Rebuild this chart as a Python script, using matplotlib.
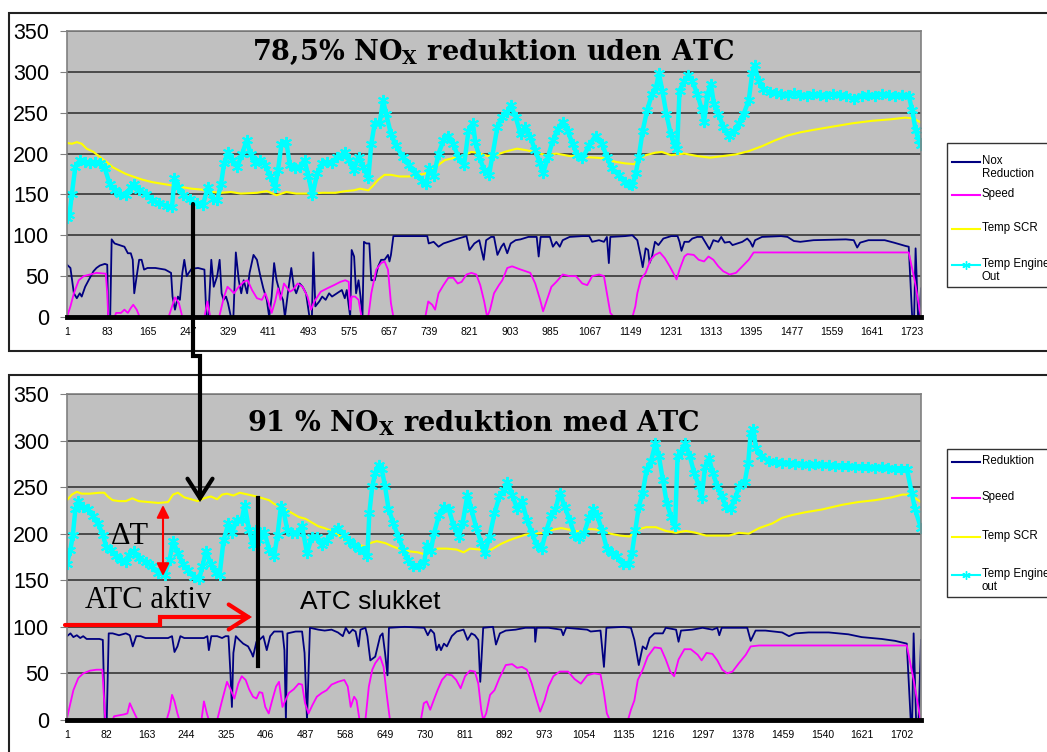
import matplotlib.pyplot as plt
from matplotlib.lines import Line2D
from matplotlib.patches import Rectangle, FancyArrowPatch
from matplotlib.path import Path

plt.rcParams['font.family'] = ['Liberation Sans', 'DejaVu Sans']
plt.rcParams['mathtext.fontset'] = 'custom'
plt.rcParams['mathtext.rm'] = 'DejaVu Serif:bold'

# ---------------- data: run without ATC (top) ----------------
top_nox_x = [1, 8, 15, 21, 27, 31, 38, 45, 55, 61, 68, 78, 83, 85, 89, 92, 98, 108, 118, 125, 131, 135, 138, 143,
             148, 153, 158, 165, 181, 201, 213, 216, 221, 227, 231, 236, 240, 245, 249, 255, 268, 281, 285, 289, 295,
             300, 307, 312, 316, 320, 325, 329, 335, 340, 345, 351, 356, 361, 368, 373, 381, 388, 395, 401, 408, 413,
             418, 423, 428, 435, 441, 445, 451, 458, 463, 468, 475, 481, 488, 495, 500, 503, 507, 515, 521, 528, 535,
             541, 551, 561, 567, 571, 578, 581, 586, 590, 595, 599, 603, 606, 611, 617, 621, 628, 635, 641, 648, 655,
             658, 661, 666, 675, 735, 738, 748, 758, 768, 778, 798, 815, 821, 831, 841, 850, 855, 865, 871, 878, 886,
             891, 898, 905, 915, 925, 941, 958, 962, 966, 985, 991, 998, 1005, 1011, 1025, 1051, 1065, 1071, 1085,
             1095, 1101, 1105, 1108, 1138, 1153, 1163, 1170, 1174, 1180, 1185, 1188, 1193, 1199, 1206, 1216, 1232,
             1245, 1249, 1253, 1259, 1268, 1275, 1285, 1295, 1301, 1310, 1318, 1328, 1334, 1341, 1351, 1357, 1367,
             1377, 1387, 1393, 1398, 1403, 1417, 1456, 1469, 1482, 1495, 1522, 1588, 1604, 1611, 1617, 1634, 1667,
             1686, 1709, 1716, 1723, 1727, 1730, 1735, 1738, 1741]
top_nox_y = [64, 60, 29, 23, 29, 25, 37, 45, 56, 60, 63, 65, 64, 0, 0, 95, 90, 88, 86, 78, 78, 70, 29, 50,
             70, 70, 58, 60, 60, 58, 54, 25, 9, 25, 21, 54, 70, 50, 54, 59, 60, 58, 0, 0, 70,
             37, 50, 70, 29, 21, 25, 17, 0, 0, 79, 45, 29, 45, 29, 54, 76, 70, 50, 35, 21, 0,
             25, 66, 45, 29, 21, 0, 29, 60, 37, 29, 41, 37, 29, 0, 0, 79, 13, 19, 25, 21, 29,
             25, 29, 33, 23, 33, 0, 82, 74, 29, 45, 25, 0, 92, 90, 90, 45, 45, 62, 70, 70, 76,
             68, 76, 99, 99, 99, 90, 92, 86, 90, 92, 96, 99, 82, 90, 94, 70, 94, 98, 98, 76, 86,
             90, 78, 90, 94, 95, 98, 98, 74, 98, 98, 86, 92, 86, 94, 98, 99, 99, 92, 94,
             92, 98, 66, 98, 99, 100, 94, 74, 61, 84, 82, 66, 74, 92, 88, 96, 99,
             99, 92, 81, 92, 92, 96, 98, 98, 92, 83, 94, 92, 98, 91, 92, 88, 90,
             92, 96, 92, 86, 94, 98, 99, 98, 93, 92, 94, 95, 94, 85, 91, 94, 94,
             91, 87, 86, 0, 0, 84, 0, 0, 35]

top_speed_x = [1, 8, 15, 25, 35, 48, 61, 80, 83, 85, 98, 101, 111, 118, 125, 131, 136, 143, 149, 208, 215, 221,
               229, 236, 281, 287, 293, 311, 321, 328, 335, 341, 351, 361, 369, 378, 388, 398, 405, 411, 418, 425,
               431, 436, 443, 448, 455, 461, 471, 481, 491, 498, 505, 518, 531, 545, 558, 568, 575, 578, 581, 588,
               595, 601, 615, 621, 631, 641, 648, 655, 661, 666, 731, 737, 745, 751, 758, 768, 778, 788, 797, 805,
               815, 825, 835, 843, 851, 857, 863, 871, 881, 888, 898, 908, 921, 935, 945, 955, 965, 971, 979, 988,
               998, 1011, 1025, 1038, 1051, 1061, 1071, 1085, 1095, 1101, 1108, 1115, 1138, 1153, 1159, 1163, 1170,
               1180, 1190, 1199, 1209, 1219, 1229, 1238, 1243, 1249, 1259, 1265, 1278, 1288, 1299, 1308, 1318, 1328,
               1338, 1351, 1364, 1377, 1390, 1400, 1456, 1522, 1600, 1716, 1728, 1741]
top_speed_y = [0, 13, 29, 45, 50, 52, 54, 53, 29, 0, 0, 5, 5, 9, 5, 11, 15, 9, 0, 0, 13, 24,
               17, 0, 0, 19, 0, 0, 25, 37, 33, 29, 37, 43, 45, 33, 23, 21, 29, 19, 5, 19,
               35, 21, 41, 37, 31, 33, 41, 37, 25, 9, 19, 31, 35, 39, 43, 45, 43, 9, 25, 25,
               21, 0, 0, 29, 58, 66, 68, 58, 17, 0, 0, 19, 15, 9, 29, 39, 48, 48, 41, 43,
               52, 54, 52, 39, 19, 0, 9, 29, 39, 45, 60, 62, 59, 56, 54, 41, 21, 7, 21, 37,
               43, 52, 50, 50, 41, 39, 50, 52, 50, 29, 5, 0, 0, 0, 13, 29, 46,
               54, 70, 76, 79, 72, 62, 52, 46, 58, 74, 77, 76, 70, 68, 74, 70, 62,
               56, 52, 54, 62, 70, 79, 79, 79, 79, 79, 45, 0]

top_scr_x = [1, 11, 21, 31, 41, 55, 68, 81, 95, 108, 121, 135, 155, 175, 195, 215, 235, 255, 275, 295, 315, 335,
             355, 388, 408, 428, 448, 468, 495, 521, 548, 568, 585, 598, 615, 625, 635, 648, 661, 678, 698, 718,
             735, 751, 771, 791, 811, 825, 838, 858, 878, 898, 918, 938, 958, 978, 998, 1025, 1051, 1078, 1098,
             1118, 1138, 1157, 1166, 1180, 1199, 1213, 1232, 1259, 1285, 1311, 1338, 1364, 1390, 1417, 1443,
             1469, 1495, 1522, 1561, 1601, 1640, 1680, 1709, 1725, 1741]
top_scr_y = [213, 212, 214, 212, 206, 202, 196, 190, 183, 179, 175, 172, 168, 165, 163, 161, 159, 157, 156, 153,
             152, 153, 151, 152, 154, 149, 153, 151, 151, 152, 152, 154, 155, 157, 155, 161, 168, 174, 174, 172,
             172, 174, 176, 183, 192, 195, 198, 202, 201, 197, 199, 203, 206, 204, 201, 198, 200, 197, 196, 195,
             194, 190, 188, 187, 194, 198, 201, 202, 198, 200, 197, 195, 197, 199, 203, 209, 216,
             222, 226, 229, 233, 237, 240, 242, 244, 243, 238]

top_eng_x = [2, 6, 11, 18, 28, 38, 48, 58, 68, 78, 88, 98, 108, 121, 131, 138, 148, 161, 175, 188, 205, 215, 220,
             228, 238, 251, 265, 278, 288, 298, 307, 315, 321, 329, 338, 348, 358, 367, 375, 385, 395, 405, 415,
             425, 431, 438, 448, 455, 465, 475, 485, 493, 501, 511, 521, 531, 541, 551, 561, 568, 575, 585, 595,
             605, 615, 621, 628, 638, 645, 651, 661, 671, 685, 698, 711, 725, 733, 739, 748, 758, 768, 778, 788,
             798, 810, 819, 828, 833, 841, 851, 861, 868, 878, 888, 898, 905, 915, 925, 935, 945, 955, 965, 971,
             981, 991, 1001, 1011, 1021, 1031, 1041, 1051, 1065, 1078, 1091, 1101, 1111, 1125, 1138, 1147, 1153,
             1160, 1166, 1174, 1183, 1193, 1201, 1207, 1214, 1222, 1231, 1239, 1244, 1249, 1259, 1267, 1275,
             1285, 1295, 1299, 1306, 1313, 1319, 1328, 1338, 1349, 1361, 1370, 1380, 1390, 1397, 1402, 1410,
             1420, 1433, 1445, 1456, 1470, 1483, 1495, 1508, 1521, 1535, 1548, 1562, 1575, 1588, 1604, 1620,
             1634, 1648, 1661, 1675, 1688, 1702, 1716, 1723, 1730, 1737, 1741]
top_eng_y = [121, 125, 151, 184, 192, 190, 188, 190, 188, 182, 163, 155, 151, 149, 159, 163, 155, 151, 143, 139,
             136, 135, 170, 159, 149, 144, 139, 137, 159, 145, 143, 163, 188, 202, 192, 184, 200, 216, 200, 188,
             192, 186, 172, 159, 180, 212, 214, 186, 182, 184, 192, 172, 149, 176, 188, 190, 188, 196, 198, 202,
             192, 180, 196, 184, 170, 212, 237, 237, 265, 249, 224, 210, 196, 186, 176, 167, 163, 182, 172, 200,
             216, 222, 212, 196, 186, 228, 237, 214, 196, 180, 174, 198, 233, 245, 251, 259, 245, 224, 233, 220,
             204, 188, 176, 196, 216, 230, 239, 228, 212, 198, 194, 210, 222, 212, 196, 182, 174, 165, 163, 161,
             176, 196, 228, 253, 273, 281, 298, 277, 249, 224, 210, 205, 277, 289, 296, 289,
             273, 253, 239, 273, 285, 261, 249, 233, 222, 228, 237, 249, 265, 298, 308, 289,
             279, 275, 274, 273, 272, 274, 272, 271, 273, 272, 271, 273, 272, 271, 267, 271,
             272, 271, 273, 272, 271, 272, 271, 253, 229, 216, 210]

# ---------------- data: run with ATC (bottom) ----------------
bot_red_x = [1, 8, 14, 21, 28, 34, 41, 54, 67, 74, 78, 82, 86, 94, 107, 121, 129, 135, 142, 151, 161, 187, 207,
             215, 220, 226, 232, 240, 260, 280, 287, 290, 295, 307, 317, 324, 330, 334, 337, 340, 345, 352, 360,
             370, 377, 380, 387, 393, 401, 408, 415, 423, 440, 444, 447, 450, 467, 480, 485, 490, 496, 513, 526,
             540, 553, 563, 569, 576, 583, 589, 595, 599, 609, 613, 619, 629, 639, 644, 649, 654, 657, 689, 729,
             736, 742, 749, 754, 759, 763, 769, 775, 785, 795, 809, 817, 825, 832, 839, 843, 849, 869, 875, 883,
             895, 915, 935, 954, 955, 958, 982, 1008, 1012, 1018, 1061, 1068, 1088, 1095, 1100, 1135, 1150, 1157,
             1166, 1174, 1181, 1188, 1198, 1215, 1221, 1242, 1247, 1252, 1275, 1296, 1316, 1326, 1330, 1335,
             1363, 1387, 1394, 1404, 1424, 1458, 1472, 1485, 1512, 1553, 1593, 1620, 1661, 1688, 1712, 1720,
             1723, 1726, 1731, 1736, 1741]
bot_red_y = [90, 93, 89, 91, 88, 90, 87, 87, 87, 86, 0, 0, 93, 93, 91, 93, 91, 79, 90, 90, 88, 88, 88,
             90, 73, 79, 90, 88, 88, 88, 90, 75, 90, 90, 88, 90, 90, 50, 14, 72, 90, 86, 82,
             79, 72, 68, 84, 86, 90, 75, 90, 95, 95, 75, 0, 93, 95, 95, 72, 0, 99, 97, 96,
             97, 94, 90, 99, 93, 97, 95, 79, 97, 99, 90, 64, 68, 90, 93, 72, 48, 99, 100, 99,
             91, 97, 93, 75, 81, 75, 82, 79, 90, 95, 97, 86, 93, 91, 86, 41, 99, 100, 81, 93,
             96, 97, 99, 99, 84, 99, 99, 97, 91, 99, 97, 95, 96, 57, 99, 100, 99, 86,
             59, 79, 76, 88, 93, 93, 99, 97, 84, 96, 97, 99, 97, 99, 91, 99,
             99, 99, 85, 96, 96, 94, 90, 93, 94, 94, 92, 89, 87, 85, 82, 0,
             0, 93, 0, 0, 86]

bot_speed_x = [1, 8, 14, 24, 34, 48, 61, 73, 75, 79, 94, 97, 107, 117, 124, 129, 135, 144, 151, 204, 210, 215,
               220, 226, 230, 275, 280, 286, 290, 307, 317, 327, 335, 342, 350, 357, 365, 372, 380, 387, 393, 399,
               405, 412, 419, 427, 433, 440, 445, 453, 463, 473, 480, 486, 493, 501, 510, 520, 530, 540, 553, 566,
               573, 579, 586, 591, 597, 609, 616, 623, 629, 639, 646, 652, 659, 722, 728, 734, 741, 748, 756, 765,
               775, 785, 794, 803, 812, 822, 832, 839, 845, 849, 855, 863, 872, 882, 895, 908, 918, 928, 938, 948,
               958, 965, 974, 982, 992, 1005, 1022, 1035, 1048, 1061, 1075, 1088, 1095, 1101, 1107, 1135, 1144,
               1150, 1157, 1164, 1174, 1184, 1198, 1211, 1221, 1230, 1238, 1247, 1259, 1272, 1286, 1294, 1304,
               1316, 1326, 1336, 1346, 1357, 1370, 1384, 1394, 1411, 1526, 1712, 1726, 1740]
bot_speed_y = [2, 18, 32, 45, 50, 53, 54, 54, 36, 0, 0, 4, 5, 6, 7, 18, 11, 1, 0, 0, 11, 27,
               20, 7, 0, 0, 20, 7, 0, 0, 21, 41, 32, 23, 39, 47, 43, 33, 25, 23, 30, 29,
               14, 7, 21, 36, 41, 14, 20, 29, 33, 39, 38, 18, 7, 16, 25, 29, 32, 38, 41, 43,
               36, 14, 25, 21, 0, 0, 36, 54, 61, 68, 57, 29, 0, 0, 18, 20, 11, 21, 32, 43,
               49, 48, 43, 34, 47, 53, 52, 39, 11, 0, 7, 27, 32, 45, 59, 60, 56, 57, 54, 39,
               21, 9, 21, 36, 47, 52, 52, 44, 39, 48, 50, 49, 29, 7, 0, 0, 0,
               11, 21, 43, 54, 68, 78, 77, 65, 52, 47, 65, 76, 76, 70, 64, 72,
               71, 64, 54, 50, 52, 61, 70, 79, 80, 80, 80, 43, 0]

bot_scr_x = [1, 11, 21, 31, 48, 67, 77, 84, 94, 107, 121, 134, 147, 167, 187, 207, 217, 227, 240, 254, 267, 280,
             294, 307, 317, 327, 340, 353, 370, 387, 400, 413, 423, 433, 447, 460, 473, 487, 500, 513, 526, 540,
             553, 569, 583, 596, 609, 619, 632, 649, 666, 682, 699, 716, 729, 742, 756, 775, 795, 809, 822, 842,
             855, 869, 885, 902, 918, 935, 955, 975, 988, 1008, 1028, 1048, 1068, 1088, 1108, 1128, 1147, 1161,
             1181, 1201, 1221, 1242, 1262, 1282, 1303, 1323, 1350, 1370, 1390, 1411, 1438, 1458, 1478, 1505,
             1539, 1580, 1613, 1647, 1681, 1703, 1718, 1741]
bot_scr_y = [236, 242, 245, 243, 243, 244, 244, 240, 236, 235, 235, 238, 235, 234, 233, 234, 242, 244, 239, 237,
             235, 238, 240, 237, 242, 243, 241, 244, 242, 240, 238, 236, 232, 230, 226, 222, 218, 216, 212, 208,
             206, 203, 199, 193, 190, 188, 186, 190, 192, 190, 186, 183, 181, 180, 178, 181, 184, 184, 183, 180,
             184, 183, 180, 184, 189, 193, 196, 199, 200, 201, 204, 206, 204, 202, 205, 204, 200, 198, 197, 204,
             207, 207, 203, 201, 203, 201, 198, 198, 198, 201, 200, 206, 211, 217, 220, 223,
             226, 231, 234, 236, 239, 242, 242, 234]

bot_eng_x = [1, 8, 13, 18, 24, 34, 44, 54, 64, 74, 81, 91, 101, 111, 121, 127, 137, 147, 161, 174, 187, 200, 210,
             217, 227, 237, 247, 260, 270, 277, 284, 294, 304, 312, 320, 330, 337, 347, 357, 363, 372, 380, 387,
             393, 403, 413, 423, 430, 437, 443, 450, 460, 470, 480, 490, 500, 510, 520, 530, 540, 553, 566, 576,
             586, 596, 606, 613, 617, 623, 629, 636, 642, 649, 656, 666, 676, 686, 696, 706, 719, 729, 734, 742,
             749, 759, 769, 779, 789, 799, 807, 817, 825, 835, 845, 852, 862, 872, 882, 892, 898, 908, 918, 928,
             938, 948, 958, 968, 978, 988, 996, 1005, 1015, 1025, 1035, 1045, 1055, 1065, 1073, 1081, 1091, 1101,
             1111, 1121, 1133, 1146, 1152, 1159, 1166, 1174, 1182, 1191, 1200, 1207, 1215, 1223, 1232, 1240,
             1245, 1252, 1261, 1270, 1279, 1289, 1294, 1301, 1309, 1317, 1326, 1335, 1344, 1353, 1362, 1371,
             1382, 1389, 1394, 1399, 1405, 1416, 1431, 1445, 1458, 1472, 1485, 1499, 1512, 1526, 1539, 1553,
             1566, 1580, 1593, 1607, 1620, 1634, 1647, 1661, 1674, 1688, 1701, 1712, 1722, 1729, 1741]
bot_eng_y = [168, 183, 199, 226, 235, 229, 226, 219, 211, 199, 186, 183, 176, 172, 170, 177, 181, 174, 170, 165,
             158, 156, 172, 192, 179, 168, 161, 154, 151, 165, 181, 168, 158, 156, 193, 211, 201, 215, 215, 231,
             204, 188, 204, 193, 202, 183, 176, 199, 230, 222, 204, 201, 201, 208, 179, 197, 197, 188, 193, 201,
             206, 199, 192, 188, 184, 181, 176, 222, 251, 265, 274, 270, 251, 227, 211, 197, 183, 172, 165, 165,
             170, 188, 181, 201, 220, 229, 226, 208, 197, 211, 242, 226, 206, 190, 179, 197, 222, 240, 247, 256,
             242, 227, 235, 215, 201, 188, 184, 204, 220, 226, 244, 229, 215, 199, 195, 201, 218, 226, 220, 204,
             184, 179, 176, 168, 168, 179, 204, 229, 244, 269, 278, 297, 283, 258, 233, 218, 208,
             283, 288, 297, 283, 265, 251, 238, 272, 281, 265, 251, 240, 229, 227, 238, 251,
             256, 276, 308, 312, 292, 283, 278, 277, 276, 276, 275, 275, 274, 275, 274, 274,
             273, 273, 273, 272, 272, 272, 271, 272, 271, 270, 270, 270, 244, 226, 206]

y_ticks = [0, 50, 100, 150, 200, 250, 300, 350]
top_xticks = list(range(1, 1742, 82))
bot_xticks = list(range(1, 1742, 81))

top_labels = ['Nox\nReduction', 'Speed', 'Temp SCR', 'Temp Engine\nOut']
bot_labels = ['Reduktion', 'Speed', 'Temp SCR', 'Temp Engine\nout']

NAVY, MAGENTA, YELLOW, CYAN = '#000080', '#FF00FF', '#FFFF00', '#00FFFF'
STAR = (6, 2, 0)

W, H = 1047, 752


def fx(px):
    return px / W


def fy(py):
    return 1 - py / H


fig = plt.figure(figsize=(W / 100, H / 100), dpi=100)

# white chart frames
fig.add_artist(Rectangle((fx(9), fy(351)), fx(1060 - 9), (351 - 13) / H, transform=fig.transFigure,
                         facecolor='white', edgecolor='#222222', lw=1.5, zorder=-1))
fig.add_artist(Rectangle((fx(9), fy(770)), fx(1060 - 9), (770 - 375) / H, transform=fig.transFigure,
                         facecolor='white', edgecolor='#222222', lw=1.5, zorder=-1))


def panel(rect, series, xticks):
    ax = fig.add_axes(rect)
    ax.set_facecolor('#C0C0C0')
    (nx, ny), (sx, sy), (tx, ty), (ex, ey) = series
    ax.plot(nx, ny, color=NAVY, lw=1.3)
    ax.plot(sx, sy, color=MAGENTA, lw=1.3)
    ax.plot(tx, ty, color=YELLOW, lw=1.5)
    ax.plot(ex, ey, color=CYAN, lw=3.2, marker=STAR, ms=8, mew=1.4)
    ax.set_xlim(1, 1741)
    ax.set_ylim(0, 350)
    ax.set_yticks(y_ticks)
    ax.set_xticks(xticks)
    ax.yaxis.grid(True, color='#4a4a4a', lw=1.4)
    ax.set_axisbelow(True)
    ax.tick_params(axis='y', direction='out', length=5, color='#808080', labelsize=15.5, pad=8)
    ax.tick_params(axis='x', length=0, labelsize=7.5, pad=7)
    for side in ('left', 'top', 'right'):
        ax.spines[side].set_color('#808080')
        ax.spines[side].set_linewidth(1.2)
    ax.spines['bottom'].set_color('black')
    ax.spines['bottom'].set_linewidth(3.5)
    ax.spines['bottom'].set_zorder(5)
    return ax


ax1 = panel([fx(67), fy(317), 854 / W, 286 / H],
            [(top_nox_x, top_nox_y), (top_speed_x, top_speed_y),
             (top_scr_x, top_scr_y), (top_eng_x, top_eng_y)], top_xticks)
ax2 = panel([fx(67), fy(720), 854 / W, 326 / H],
            [(bot_red_x, bot_red_y), (bot_speed_x, bot_speed_y),
             (bot_scr_x, bot_scr_y), (bot_eng_x, bot_eng_y)], bot_xticks)


def legend_box(top, bottom, labels, rows):
    fig.add_artist(Rectangle((fx(947), fy(bottom)), fx(120), (bottom - top) / H, transform=fig.transFigure,
                             facecolor='white', edgecolor='#333333', lw=1))
    styles = [(NAVY, None), (MAGENTA, None), (YELLOW, None), (CYAN, STAR)]
    for label, (color, mk), y in zip(labels, styles, rows):
        fig.add_artist(Line2D([fx(952), fx(966), fx(980)], [fy(y)] * 3, transform=fig.transFigure,
                              color=color, lw=1.5, marker=mk, markevery=[1], ms=6, mew=1))
        fig.text(fx(982), fy(y - 7), label, fontsize=8.3, va='top', ha='left', linespacing=1.15)


legend_box(143, 287, top_labels, [162, 195, 229, 265])
legend_box(449, 597, bot_labels, [462, 498, 537, 575])

# titles inside the plot areas
fig.text(fx(493), fy(52), '78,5% NO$_\\mathrm{X}$ reduktion uden ATC', family='DejaVu Serif',
         fontweight='bold', fontsize=19.5, ha='center', va='center')
fig.text(fx(473), fy(423), '91 % NO$_\\mathrm{X}$ reduktion med ATC', family='DejaVu Serif',
         fontweight='bold', fontsize=19.5, ha='center', va='center')

# black connector from the top run down to the SCR temperature with ATC
link = Path([(fx(193), fy(204)), (fx(193), fy(356)), (fx(200), fy(356)), (fx(200), fy(502))])
fig.add_artist(FancyArrowPatch(path=link, transform=fig.transFigure, arrowstyle='->,head_length=0.7,head_width=0.45',
                               mutation_scale=20, lw=3, color='black', joinstyle='miter'))

# ATC switch-off marker
fig.add_artist(Line2D([fx(258), fx(258)], [fy(498), fy(666)], transform=fig.transFigure, color='black', lw=3))

# ATC active arrow
active = Path([(fx(65), fy(625)), (fx(160), fy(625)), (fx(160), fy(617)), (fx(252), fy(617))])
fig.add_artist(FancyArrowPatch(path=active, transform=fig.transFigure, arrowstyle='->,head_length=0.7,head_width=0.45',
                               mutation_scale=20, lw=3, color='red', joinstyle='miter'))

# delta T between SCR and engine out temperature
fig.add_artist(FancyArrowPatch((fx(163), fy(505)), (fx(163), fy(576)), transform=fig.transFigure,
                               arrowstyle='<|-|>,head_length=0.5,head_width=0.25', mutation_scale=15,
                               lw=1.5, color='red', shrinkA=0, shrinkB=0))

fig.text(fx(111), fy(537), 'ΔT', family='Liberation Serif', fontsize=22, ha='left', va='center')
fig.text(fx(85), fy(600), 'ATC aktiv', family='Liberation Serif', fontsize=22, ha='left', va='center')
fig.text(fx(300), fy(602), 'ATC slukket', fontsize=19, ha='left', va='center')

fig.savefig('out.png', dpi=100)
